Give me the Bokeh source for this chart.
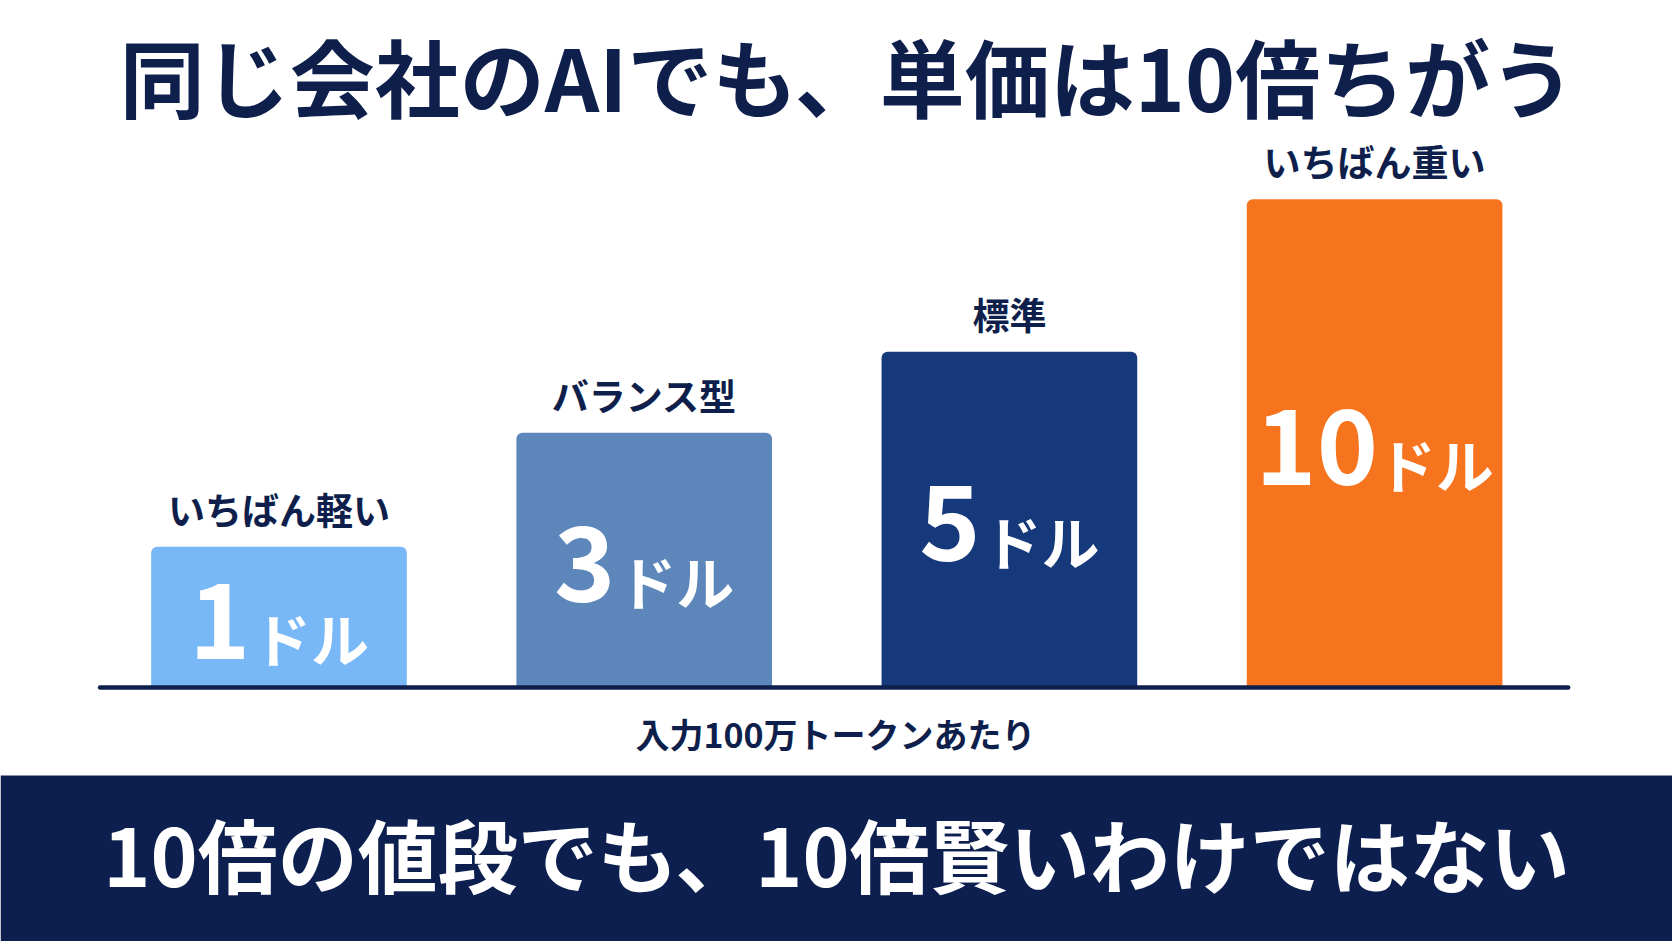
import numpy as np
from bokeh.plotting import figure
from bokeh.models import ColumnDataSource, Range1d, BoxAnnotation
from bokeh.core.properties import value
from bokeh.embed import file_html
from bokeh.resources import INLINE

# ---- data -------------------------------------------------------------
tiers = ["いちばん軽い", "バランス型", "標準", "いちばん重い"]
prices = [1, 3, 5, 10]          # USD per 1M input tokens
unit = "ドル"
title_text = "同じ会社のAIでも、単価は10倍ちがう"
axis_note = "入力100万トークンあたり"
footer_text = "10倍の値段でも、10倍賢いわけではない"

# ---- styling ------------------------------------------------------------
W, H = 1672, 941
FONT = "Noto Sans CJK JP"
NAVY = "#0E1F4C"
BAR_COLORS = ["#78B8F7", "#5D87BA", "#15397A", "#F7741F"]
SCALE_EXP = 0.54                 # bars use a compressed power scale

# canvas geometry (pixels)
PX_PER_CAT = 365.2
FIRST_CENTER = 278.5
PX_PER_UNIT = 140.8
BASE_ROW = 687


def xpx(px):
    return (px - FIRST_CENTER) / PX_PER_CAT


def ypx(py):
    return (BASE_ROW - py) / PX_PER_UNIT


x = np.arange(len(tiers))
heights = np.power(np.array(prices, dtype=float), SCALE_EXP)

# value label layout: big number + smaller unit, centred as one block
NUM_SIZE, UNIT_SIZE, GAP = 104, 58, 6
nums = [str(v) for v in prices]
num_w = np.array([len(n) * 0.56 * NUM_SIZE for n in nums])
block_w = num_w + GAP + 2 * UNIT_SIZE
num_off = -block_w / 2
unit_off = -block_w / 2 + num_w + GAP

src = ColumnDataSource(dict(
    x=x, top=heights, mid=heights / 2, name=tiers, num=nums,
    unit=[unit] * len(tiers), color=BAR_COLORS,
    num_off=num_off, unit_off=unit_off,
))

p = figure(
    width=W, height=H, output_backend="svg", toolbar_location=None,
    x_range=Range1d(xpx(0), xpx(W)), y_range=Range1d(ypx(H), ypx(0)),
    x_axis_location=None, y_axis_location=None, min_border=0,
)
p.outline_line_color = None
p.grid.visible = False
p.background_fill_color = "white"
p.border_fill_color = "white"

# bars
p.vbar(x="x", top="top", bottom=0, width=0.7, fill_color="color",
       line_color=None, border_radius=(6, 6, 0, 0), source=src)

# baseline
p.segment(x0=[-0.49], y0=[0], x1=[len(tiers) - 1 + 0.53], y1=[0],
          line_color=NAVY, line_width=4.5, line_cap="round")

# tier names above bars
p.text(x="x", y="top", text="name", source=src, text_align="center",
       text_baseline="alphabetic", y_offset=-38,
       text_font=value(FONT), text_font_style="bold",
       text_font_size="37px", text_color=NAVY)

# value labels inside bars (number and unit share one bottom line)
p.text(x="x", y="mid", text="num", source=src, text_align="left",
       text_baseline="alphabetic", x_offset="num_off", y_offset=3,
       text_font=value(FONT), text_font_style="bold",
       text_font_size=f"{NUM_SIZE}px", text_color="white")
p.text(x="x", y="mid", text="unit", source=src, text_align="left",
       text_baseline="alphabetic", x_offset="unit_off", y_offset=20,
       text_font=value(FONT), text_font_style="bold",
       text_font_size=f"{UNIT_SIZE}px", text_color="white")

# headline
p.text(x=[xpx(847)], y=[ypx(74)], text=[title_text], text_align="center",
       text_baseline="middle", text_font=value(FONT),
       text_font_style="bold", text_font_size="85px", text_color=NAVY)

# unit note under the baseline
p.text(x=[xpx(835)], y=[ypx(733)], text=[axis_note], text_align="center",
       text_baseline="middle", text_font=value(FONT),
       text_font_style="bold", text_font_size="34px", text_color=NAVY)

# footer band with takeaway
p.add_layout(BoxAnnotation(top=ypx(775), fill_color="#0C1F4E",
                           fill_alpha=1, line_color=None, level="underlay"))
p.text(x=[xpx(836)], y=[ypx(851)], text=[footer_text], text_align="center",
       text_baseline="middle", text_font=value(FONT),
       text_font_style="bold", text_font_size="80px", text_color="white")

open("out.html", "w").write(file_html(p, INLINE))
